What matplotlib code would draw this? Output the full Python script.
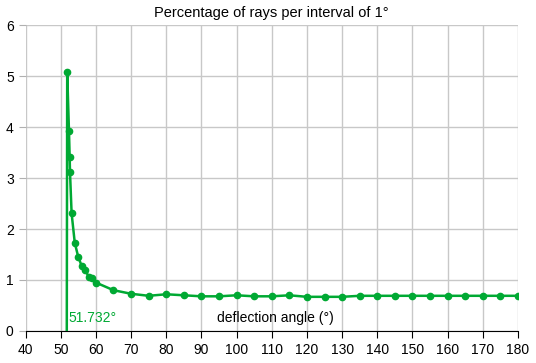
import numpy as np
import matplotlib
matplotlib.use('Agg')
import matplotlib.pyplot as plt

plt.rcParams['font.family'] = ['Liberation Sans', 'DejaVu Sans']

# angle limite (arc-en-ciel)
angle_min = 51.732
# pourcentage de rayons par intervalle de 1 degre
angles = [51.732, 51.85, 52.35, 52.55, 52.65, 53.1, 54, 55, 56, 57, 58, 59, 60,
          65, 70, 75, 80, 85, 90, 95, 100, 105, 110, 115, 120, 125, 130,
          135, 140, 145, 150, 155, 160, 165, 170, 175, 180]
pourcent = [0.0, 5.07, 3.93, 3.41, 3.11, 2.31, 1.73, 1.45, 1.27, 1.19, 1.06, 1.03, 0.95,
            0.80, 0.73, 0.69, 0.72, 0.70, 0.68, 0.68, 0.70, 0.68, 0.68, 0.70, 0.67, 0.67, 0.67,
            0.69, 0.69, 0.69, 0.69, 0.69, 0.69, 0.69, 0.69, 0.69, 0.69]

vert = '#00a933'

fig = plt.figure(figsize=(5.36, 3.63), dpi=100)
ax = fig.add_axes([0.0476, 0.0882, 0.9188, 0.8428])
ax.plot(angles, pourcent, color=vert, lw=1.8, zorder=3)
ax.plot(angles[1:], pourcent[1:], 'o', color=vert, ms=4.5, zorder=4)
ax.set_xlim(40, 180)
ax.set_ylim(0, 6)
ax.set_xticks(range(40, 181, 10))
ax.set_yticks(range(0, 7))
ax.grid(True, color='#c8c8c8', lw=1)
ax.set_axisbelow(True)
for s in ['top', 'right', 'left']:
    ax.spines[s].set_visible(False)
ax.spines['bottom'].set_color('black')
ax.spines['bottom'].set_zorder(5)
ax.tick_params(axis='x', labelsize=10, color='black', length=5)
ax.tick_params(axis='y', labelsize=10, color='#b0b0b0', length=5)
ax.set_title('Percentage of rays per interval of 1°', fontsize=10.5, pad=6)
ax.text(angle_min + 0.6, 0.18, '%.3f°' % angle_min, color=vert, fontsize=10)
ax.text(111, 0.18, 'deflection angle (°)', ha='center', fontsize=10)
plt.savefig('out.png')
